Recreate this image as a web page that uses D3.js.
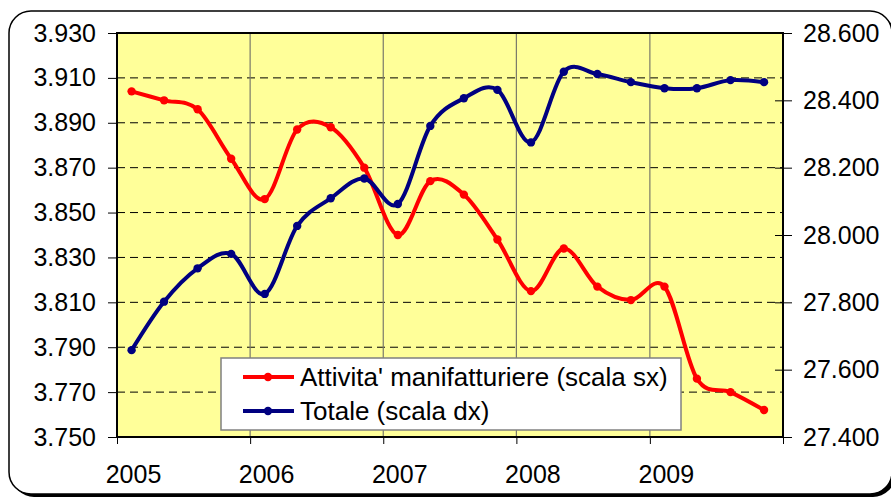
<!DOCTYPE html>
<html>
<head>
<meta charset="utf-8">
<script src="https://cdn.jsdelivr.net/npm/d3@7"></script>
<style>
  body { margin: 0; background: #fff; }
  svg text { font-family: Arial, "Liberation Sans", sans-serif; fill: #000; }
</style>
</head>
<body>
<svg id="svg" width="891" height="498"></svg>
<script>
// trimestri (data di riferimento di ogni punto)
const periods = [
  "2005-02-10", "2005-05-10", "2005-08-10", "2005-11-10",
  "2006-02-10", "2006-05-10", "2006-08-10", "2006-11-10",
  "2007-02-10", "2007-05-10", "2007-08-10", "2007-11-10",
  "2008-02-10", "2008-05-10", "2008-08-10", "2008-11-10",
  "2009-02-10", "2009-05-10", "2009-08-10", "2009-11-10"
];
// occupati, migliaia
const manifatturiere = [
  3904, 3900, 3896, 3874, 3856, 3887, 3888, 3870, 3840, 3864,
  3858, 3838, 3815, 3834, 3817, 3811, 3817, 3776, 3770, 3762
];
const totale = [
  27658, 27802, 27901, 27944, 27825, 28027, 28109, 28168, 28092, 28324,
  28406, 28431, 28275, 28485, 28478, 28454, 28436, 28436, 28460, 28454
];
const years = [2005, 2006, 2007, 2008, 2009, 2010];
const leftTicks = [3750, 3770, 3790, 3810, 3830, 3850, 3870, 3890, 3910, 3930];
const rightTicks = [27400, 27600, 27800, 28000, 28200, 28400, 28600];
const legendLabels = ["Attivita' manifatturiere (scala sx)", "Totale (scala dx)"];
const colors = ["#ff0000", "#000080"];

const svg = d3.select("#svg");
const parse = d3.timeParse("%Y-%m-%d");
const it = d3.formatLocale({ decimal: ",", thousands: ".", grouping: [3], currency: ["€", ""] });
const fmt = it.format(",.0f");

// area del grafico
const plot = { left: 117, right: 783, top: 33, bottom: 437 };

const x = d3.scaleTime()
  .domain([new Date(2005, 0, 1), new Date(2010, 0, 1)])
  .range([plot.left, plot.right]);
const yL = d3.scaleLinear().domain([3750, 3930]).range([plot.bottom, plot.top]);
const yR = d3.scaleLinear().domain([27400, 28600]).range([plot.bottom, plot.top]);

// cornice esterna con ombra
svg.append("rect")
  .attr("x", 12).attr("y", 14).attr("width", 883).attr("height", 483)
  .attr("rx", 22).attr("fill", "#000");
svg.append("rect")
  .attr("x", 9).attr("y", 11).attr("width", 883).attr("height", 483)
  .attr("rx", 22).attr("fill", "#fff")
  .attr("stroke", "#000").attr("stroke-width", 1.5);

// sfondo giallo
svg.append("rect")
  .attr("x", plot.left).attr("y", plot.top)
  .attr("width", plot.right - plot.left).attr("height", plot.bottom - plot.top)
  .attr("fill", "#ffff99");

// griglia orizzontale tratteggiata
svg.append("g").selectAll("line")
  .data(leftTicks.slice(1, -1))
  .join("line")
  .attr("x1", plot.left).attr("x2", plot.right)
  .attr("y1", d => yL(d)).attr("y2", d => yL(d))
  .attr("stroke", "#000").attr("stroke-width", 1)
  .attr("stroke-dasharray", "8,5");

// griglia verticale (anni)
svg.append("g").selectAll("line")
  .data(years.slice(1, -1))
  .join("line")
  .attr("x1", d => x(new Date(d, 0, 1))).attr("x2", d => x(new Date(d, 0, 1)))
  .attr("y1", plot.top).attr("y2", plot.bottom)
  .attr("stroke", "#7a7a6a").attr("stroke-width", 1.2);

// asse sinistro
const axL = svg.append("g")
  .attr("transform", `translate(${plot.left},0)`)
  .call(d3.axisLeft(yL).tickValues(leftTicks).tickFormat(fmt).tickSize(9).tickPadding(12));
axL.select(".domain").remove();
axL.selectAll("line").attr("stroke", "#000");
axL.selectAll("text").attr("font-size", 25).attr("font-family", null);

// asse destro
const axR = svg.append("g")
  .attr("transform", `translate(${plot.right},0)`)
  .call(d3.axisRight(yR).tickValues(rightTicks).tickFormat(fmt).tickSize(9).tickPadding(11));
axR.select(".domain").remove();
axR.selectAll("line").attr("x1", -8).attr("x2", 9).attr("stroke", "#000");
axR.selectAll("text").attr("font-size", 25).attr("font-family", null);

// asse orizzontale
const axB = svg.append("g")
  .attr("transform", `translate(0,${plot.bottom})`)
  .call(d3.axisBottom(x)
    .tickValues(years.map(d => new Date(d, 0, 1)))
    .tickFormat(d => d.getFullYear() < 2010 ? d.getFullYear() : "")
    .tickSize(7));
axB.select(".domain").remove();
axB.selectAll("line").attr("stroke", "#000");
axB.selectAll("text")
  .attr("font-size", 25).attr("font-family", null)
  .attr("y", 46).attr("dy", null).attr("dx", 16);

// bordo dell'area
svg.append("rect")
  .attr("x", plot.left).attr("y", plot.top)
  .attr("width", plot.right - plot.left).attr("height", plot.bottom - plot.top)
  .attr("fill", "none").attr("stroke", "#000").attr("stroke-width", 2);

// serie
const series = [
  { values: manifatturiere, y: yL, color: colors[0] },
  { values: totale, y: yR, color: colors[1] }
];
series.forEach(s => {
  const pts = periods.map((p, i) => [x(parse(p)), s.y(s.values[i])]);
  svg.append("path")
    .attr("d", d3.line().curve(d3.curveCardinal.tension(0))(pts))
    .attr("fill", "none")
    .attr("stroke", s.color).attr("stroke-width", 4)
    .attr("stroke-linejoin", "round");
  svg.append("g").selectAll("circle")
    .data(pts)
    .join("circle")
    .attr("cx", d => d[0]).attr("cy", d => d[1])
    .attr("r", 4.2)
    .attr("fill", s.color);
});

// legenda
const legend = svg.append("g");
legend.append("rect")
  .attr("x", 221).attr("y", 358).attr("width", 460).attr("height", 72)
  .attr("fill", "#fff").attr("stroke", "#808080").attr("stroke-width", 1.5);
legendLabels.forEach((label, i) => {
  const ly = 377 + i * 34;
  legend.append("line")
    .attr("x1", 243).attr("x2", 294).attr("y1", ly).attr("y2", ly)
    .attr("stroke", colors[i]).attr("stroke-width", 4);
  legend.append("circle")
    .attr("cx", 268).attr("cy", ly).attr("r", 4.2).attr("fill", colors[i]);
  legend.append("text")
    .attr("x", 300).attr("y", ly + 9)
    .attr("font-size", 26)
    .text(label);
});
</script>
</body>
</html>
